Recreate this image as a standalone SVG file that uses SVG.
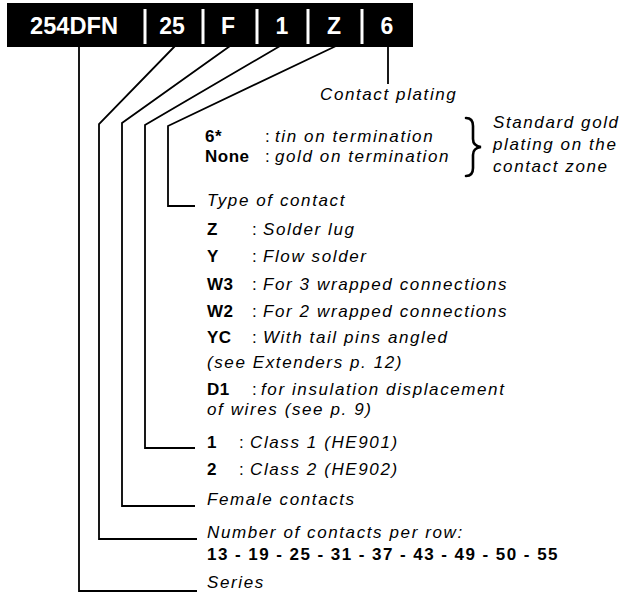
<svg xmlns="http://www.w3.org/2000/svg" width="624" height="594" viewBox="0 0 624 594">
<style>
.bar{fill:#000}
.sep{fill:#fff}
.code{font-family:"Liberation Sans",Arial,sans-serif;font-weight:bold;font-size:23px;fill:#fff;text-anchor:middle}
.ln{fill:none;stroke:#000;stroke-width:1.8;stroke-linejoin:miter}
.it{font-family:"Liberation Sans",Arial,sans-serif;font-style:italic;font-size:17px;letter-spacing:1.6px;fill:#000}
.b{font-family:"Liberation Sans",Arial,sans-serif;font-weight:bold;font-size:17px;letter-spacing:0.5px;fill:#000}
.c{font-family:"Liberation Sans",Arial,sans-serif;font-size:17px;fill:#000}
.brace{fill:none;stroke:#000;stroke-width:2.6;stroke-linecap:round}
</style>
<g id="connectors">
<polyline class="ln" points="79,46 79,591 197,591"/>
<polyline class="ln" points="175,46 99,124 99,539 197,539"/>
<polyline class="ln" points="230,46 122,123 122,506 195,506"/>
<polyline class="ln" points="280,46 145,125 145,448 195,448"/>
<polyline class="ln" points="336,46 168,126 168,206 195,206"/>
<line class="ln" x1="388" y1="46" x2="388" y2="84"/>
</g>
<g id="code-bar">
<rect class="bar" x="7" y="3" width="406" height="44"/>
<rect class="sep" x="143.5" y="9" width="3" height="35"/>
<rect class="sep" x="201.5" y="9" width="3" height="35"/>
<rect class="sep" x="255.5" y="9" width="3" height="35"/>
<rect class="sep" x="306.5" y="9" width="3" height="35"/>
<rect class="sep" x="360.5" y="9" width="3" height="35"/>
<text class="code" x="74" y="34" textLength="88" lengthAdjust="spacingAndGlyphs">254DFN</text>
<text class="code" x="172" y="34">25</text>
<text class="code" x="228" y="34">F</text>
<text class="code" x="282" y="34">1</text>
<text class="code" x="334" y="34">Z</text>
<text class="code" x="387" y="34">6</text>
</g>
<g id="contact-plating">
<text class="it" x="320" y="100">Contact plating</text>
<text class="b" x="205" y="142">6*</text>
<text class="c" x="265" y="142">:</text>
<text class="it" x="275" y="142">tin on termination</text>
<text class="b" x="205" y="162">None</text>
<text class="c" x="265" y="162">:</text>
<text class="it" x="275" y="162">gold on termination</text>
<path class="brace" d="M466,118 Q473,118 473,126 L473,139 Q473,146 481,147 Q473,148 473,155 L473,168 Q473,176 466,176"/>
<text class="it" x="493" y="128">Standard gold</text>
<text class="it" x="493" y="150">plating on the</text>
<text class="it" x="493" y="172">contact zone</text>
</g>
<g id="type-of-contact">
<text class="it" x="207" y="206">Type of contact</text>
<text class="b" x="207" y="235">Z</text>
<text class="c" x="252" y="235">:</text>
<text class="it" x="263" y="235">Solder lug</text>
<text class="b" x="207" y="262">Y</text>
<text class="c" x="252" y="262">:</text>
<text class="it" x="263" y="262">Flow solder</text>
<text class="b" x="207" y="290">W3</text>
<text class="c" x="252" y="290">:</text>
<text class="it" x="263" y="290">For 3 wrapped connections</text>
<text class="b" x="207" y="317">W2</text>
<text class="c" x="252" y="317">:</text>
<text class="it" x="263" y="317">For 2 wrapped connections</text>
<text class="b" x="207" y="343">YC</text>
<text class="c" x="252" y="343">:</text>
<text class="it" x="263" y="343">With tail pins angled</text>
<text class="it" x="207" y="368">(see Extenders p. 12)</text>
<text class="b" x="207" y="395">D1</text>
<text class="c" x="252" y="395">:</text>
<text class="it" x="261" y="395">for insulation displacement</text>
<text class="it" x="207" y="415">of wires (see p. 9)</text>
</g>
<g id="class">
<text class="b" x="207" y="448">1</text>
<text class="c" x="239" y="448">:</text>
<text class="it" x="250" y="448">Class 1 (HE901)</text>
<text class="b" x="207" y="475">2</text>
<text class="c" x="239" y="475">:</text>
<text class="it" x="250" y="475">Class 2 (HE902)</text>
</g>
<g id="female">
<text class="it" x="207" y="505">Female contacts</text>
</g>
<g id="number">
<text class="it" x="207" y="538">Number of contacts per row:</text>
<text class="b" x="207" y="560" textLength="351">13 - 19 - 25 - 31 - 37 - 43 - 49 - 50 - 55</text>
</g>
<g id="series">
<text class="it" x="207" y="588">Series</text>
</g>
</svg>
